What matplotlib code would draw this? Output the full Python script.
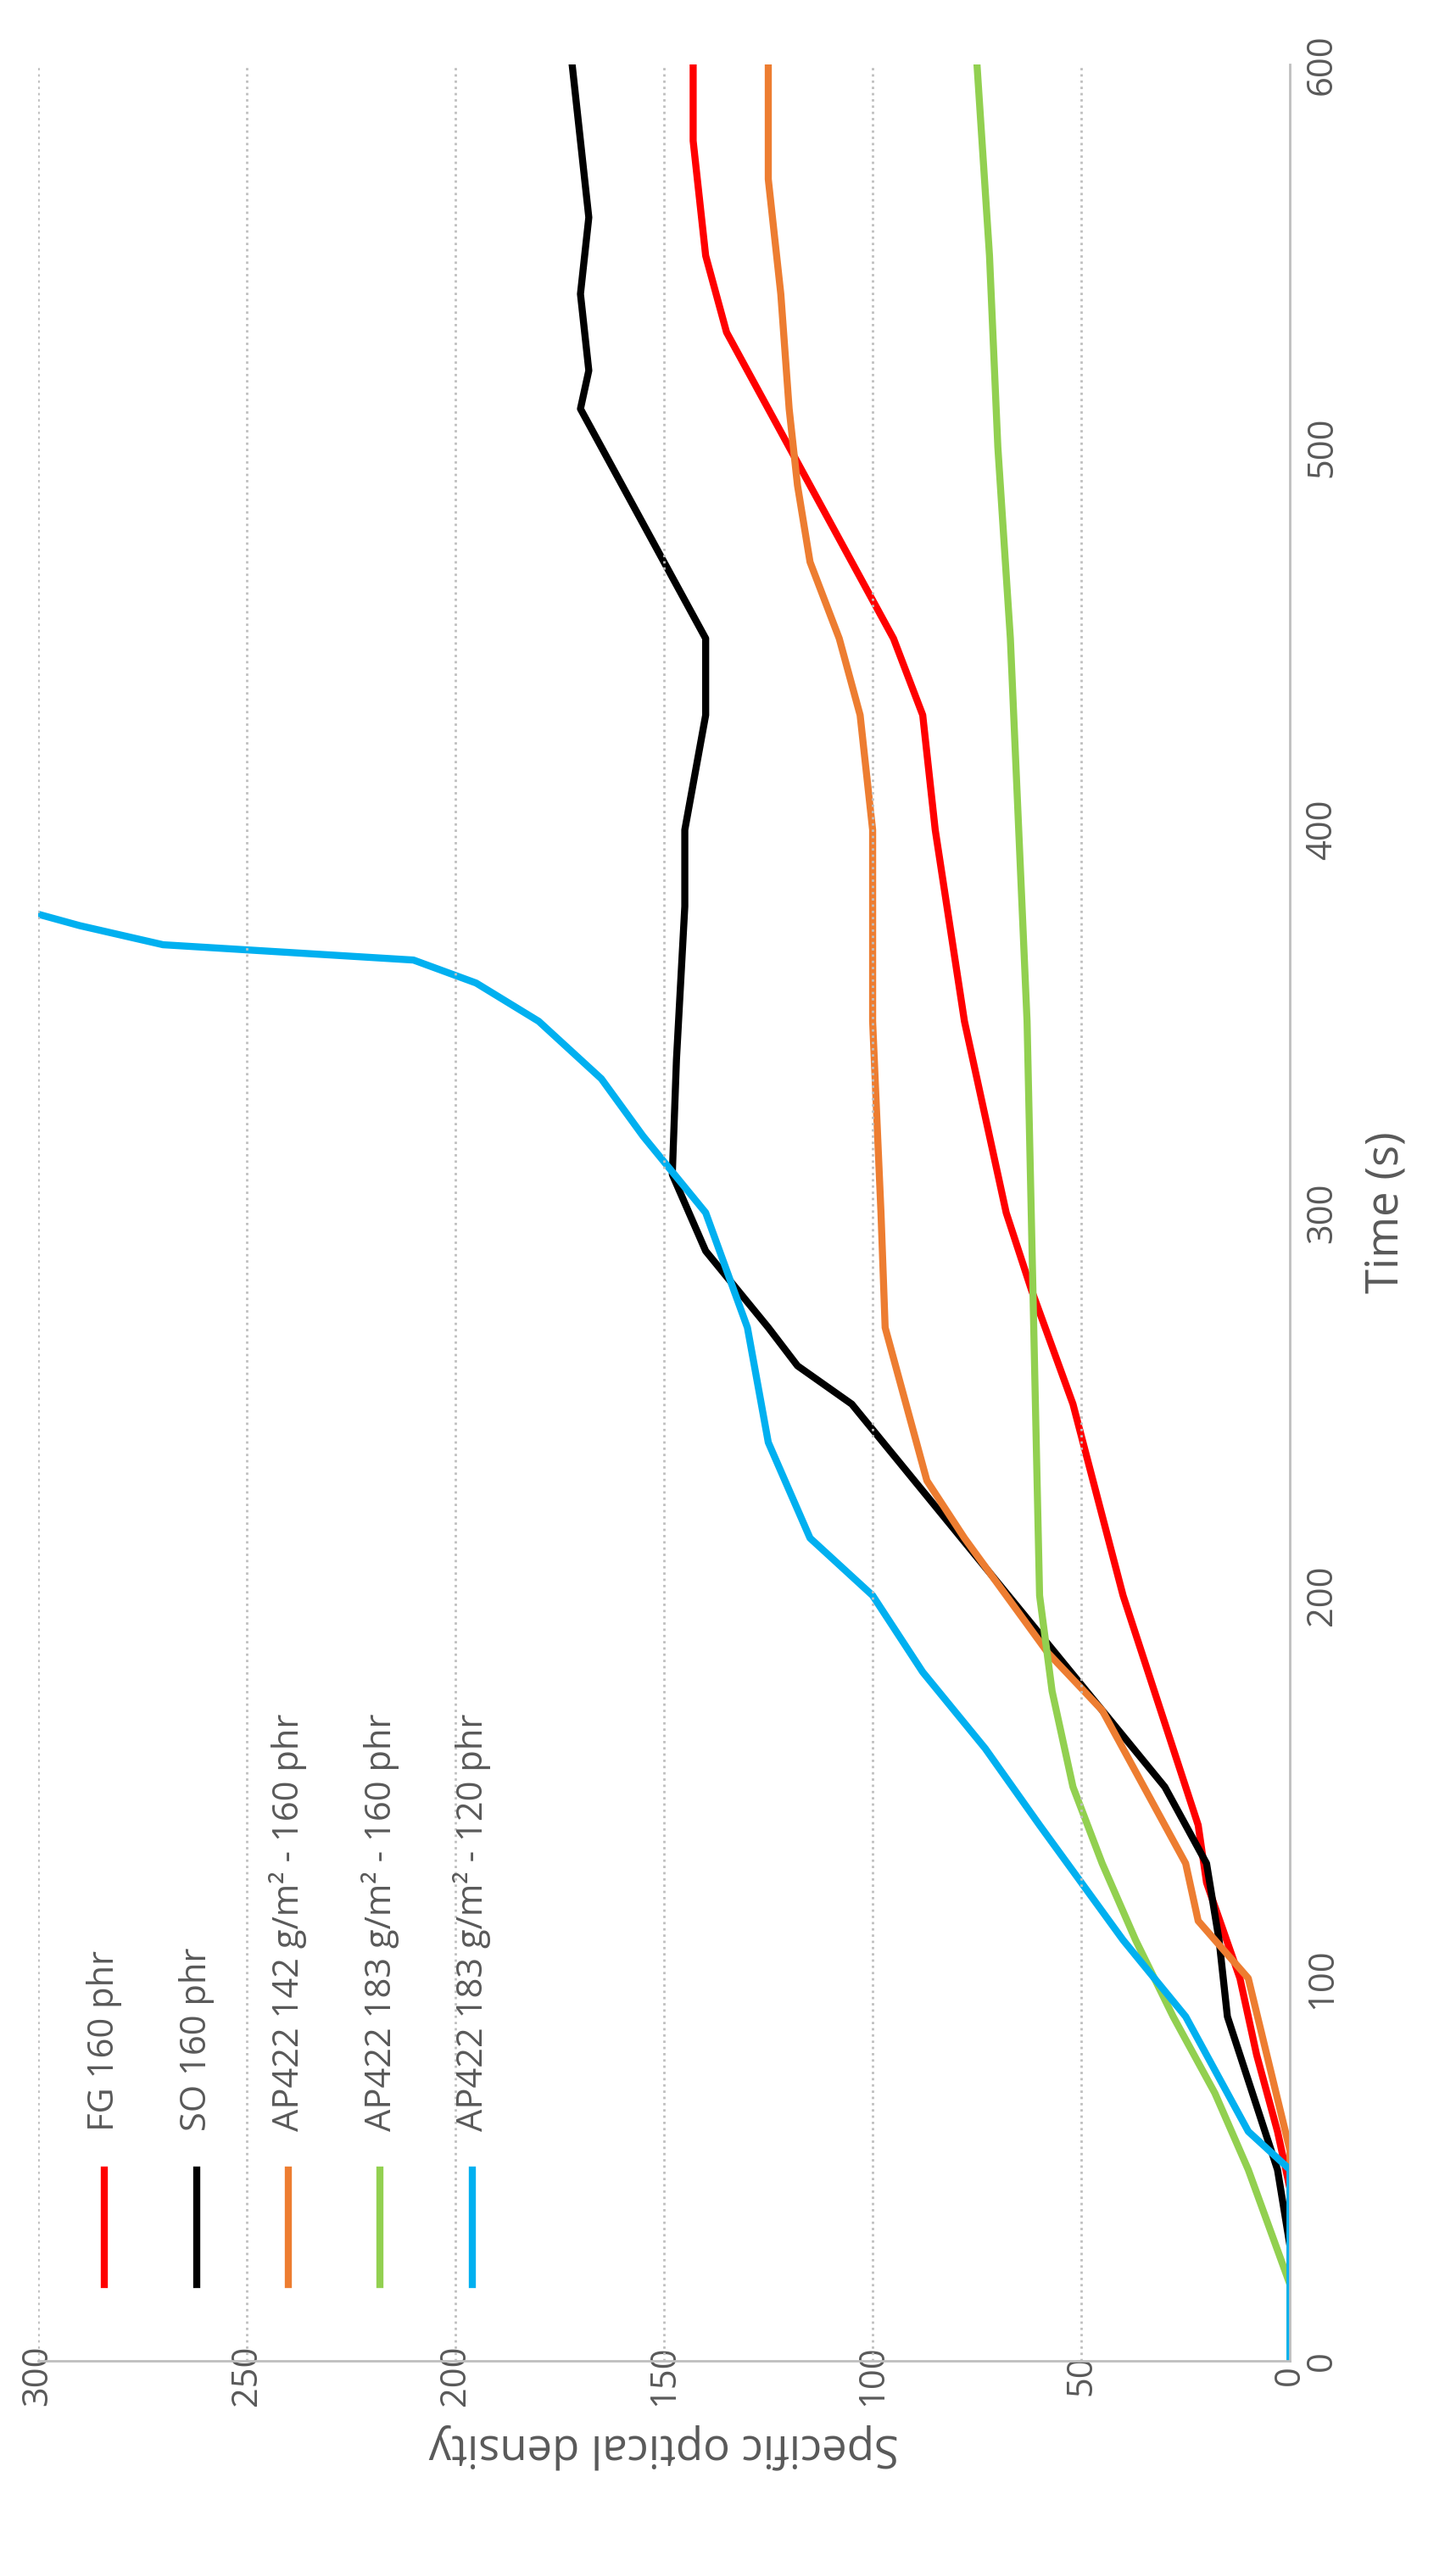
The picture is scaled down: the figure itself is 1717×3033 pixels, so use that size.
import matplotlib
matplotlib.use("Agg")
import matplotlib.pyplot as plt

plt.rcParams['font.family'] = ['Open Sans', 'DejaVu Sans']

# time (s) and specific optical density for each series
fg_t = [0, 45, 60, 80, 100, 125, 140, 160, 200, 250, 280, 300, 350, 400, 430, 450, 470, 490, 510, 530, 550, 580, 600]
fg_d = [0, 0, 3, 8, 12, 20, 22, 28, 40, 52, 62, 68, 78, 85, 88, 95, 105, 115, 125, 135, 140, 143, 143]

so_t = [0, 30, 50, 80, 90, 110, 130, 150, 170, 190, 210, 230, 250, 260, 270, 290, 310, 340, 380, 400, 430, 450, 470, 490, 510, 520, 540, 560, 580, 600]
so_d = [0, 0, 3, 12, 15, 17, 20, 30, 45, 60, 75, 90, 105, 118, 125, 140, 148, 147, 145, 145, 140, 140, 150, 160, 170, 168, 170, 168, 170, 172]

ap142_t = [0, 55, 100, 115, 130, 150, 170, 185, 200, 215, 230, 250, 270, 300, 350, 400, 430, 450, 470, 490, 510, 540, 570, 600]
ap142_d = [0, 0, 10, 22, 25, 35, 45, 58, 68, 78, 87, 92, 97, 98, 100, 100, 103, 108, 115, 118, 120, 122, 125, 125]

ap183_t = [0, 20, 50, 70, 90, 110, 130, 150, 175, 200, 250, 300, 350, 400, 450, 500, 550, 600]
ap183_d = [0, 0, 10, 18, 28, 37, 45, 52, 57, 60, 61, 62, 63, 65, 67, 70, 72, 75]

ap120_t = [0, 50, 60, 70, 90, 110, 125, 140, 160, 180, 200, 215, 240, 270, 300, 320, 335, 350, 360, 366, 368, 370, 375, 378]
ap120_d = [0, 0, 10, 15, 25, 40, 50, 60, 73, 88, 100, 115, 125, 130, 140, 155, 165, 180, 195, 210, 240, 270, 290, 300]

series = [
    ("FG 160 phr", fg_t, fg_d, "#ff0000"),
    ("SO 160 phr", so_t, so_d, "#000000"),
    ("AP422 142 g/m\u00b2 - 160 phr", ap142_t, ap142_d, "#ed7d31"),
    ("AP422 183 g/m\u00b2 - 160 phr", ap183_t, ap183_d, "#92d050"),
    ("AP422 183 g/m\u00b2 - 120 phr", ap120_t, ap120_d, "#00b0f0"),
]
legend_pos = [284, 262, 240, 218, 196]

fig = plt.figure(figsize=(17.17, 30.33), dpi=100)
ax = fig.add_axes([0.026, 0.082, 0.86, 0.893])

for name, t, d, c in series:
    ax.plot(d, t, color=c, lw=6)

# rotated legend drawn by hand
for (name, t, d, c), x in zip(series, legend_pos):
    ax.plot([x, x], [20, 50], color=c, lw=6)
    ax.text(x, 60, name, rotation=90, ha='center', va='bottom', fontsize=30, color='#595959')

ax.set_xlim(300, 0)
ax.set_ylim(0, 600)
ax.set_xticks(range(0, 301, 50))
ax.set_yticks(range(0, 601, 100))
for v in range(50, 301, 50):
    ax.axvline(v, color='#bfbfbf', ls=':', lw=2)
ax.yaxis.tick_right()
ax.yaxis.set_label_position('right')
for s in ['top', 'left']:
    ax.spines[s].set_visible(False)
for s in ['right', 'bottom']:
    ax.spines[s].set_color('#bfbfbf')
    ax.spines[s].set_linewidth(2)
ax.tick_params(length=0, labelsize=30, labelcolor='#595959', pad=12)
for lab in ax.get_xticklabels() + ax.get_yticklabels():
    lab.set_rotation(90)
    lab.set_va('center')
ax.set_ylabel("Time (s)", fontsize=38, color='#595959', rotation=90, labelpad=20)
ax.set_xlabel("Specific optical density", fontsize=38, color='#595959', rotation=180, labelpad=15)

fig.savefig("out.png")
